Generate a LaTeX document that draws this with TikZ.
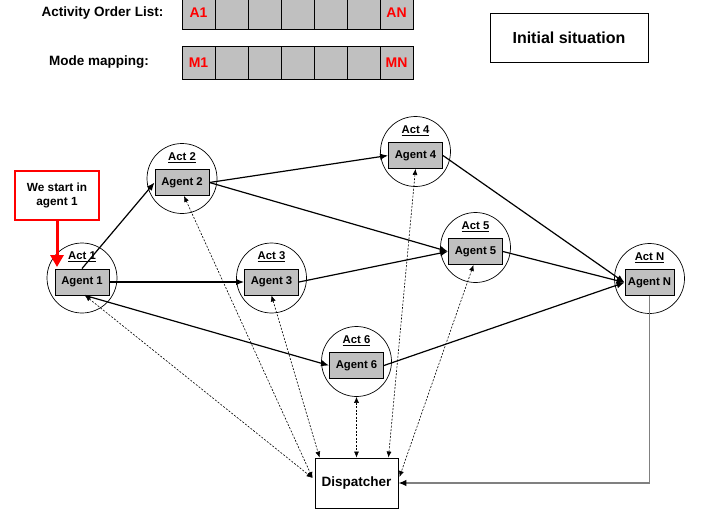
\documentclass[tikz,border=0pt]{standalone}
\usepackage{fontspec}
\setmainfont{Liberation Sans}
\usetikzlibrary{arrows.meta}
\definecolor{cellgray}{HTML}{C0C0C0}
\definecolor{linegray}{HTML}{808080}
\begin{document}
\begin{tikzpicture}[x=1pt,y=-1pt,
  agentbox/.style={draw, fill=cellgray, line width=0.9pt, minimum width=54pt, minimum height=26pt, inner sep=0pt, font=\fontsize{11.3}{13}\selectfont\bfseries},
  actcirc/.style={draw, circle, minimum size=70pt, inner sep=0pt, line width=0.7pt},
  actlabel/.style={font=\fontsize{11.3}{13}\selectfont\bfseries, inner sep=0pt},
  flow/.style={line width=1.2pt, -{Latex[length=8pt,width=6.5pt]}},
  dispatch/.style={line width=0.6pt, dash pattern=on 2pt off 1.5pt, {Latex[length=6pt,width=5pt]}-{Latex[length=6pt,width=5pt]}},
  cell/.style={draw, fill=cellgray, line width=1pt, minimum width=33pt, minimum height=33pt, inner sep=0pt},
  celltext/.style={text=red, font=\fontsize{14}{16}\selectfont\bfseries, inner sep=0pt},
  rowlabel/.style={font=\fontsize{13.5}{16}\selectfont\bfseries, inner sep=0pt}
]
\useasboundingbox (0,0) rectangle (702,514);

% --- arrays ---
\foreach \i in {0,...,6} {
  \node[cell] (ra\i) at (198.5+33*\i,12.5) {};
  \node[cell] (rm\i) at (198.5+33*\i,62.5) {};
}
\node[celltext] (tA1) at (ra0) {A1};
\node[celltext] (tAN) at (ra6) {AN};
\node[celltext] (tM1) at (rm0) {M1};
\node[celltext] (tMN) at (rm6) {MN};
\node[rowlabel] (lblaol) at (102.5,13) {Activity Order List:};
\node[rowlabel] (lblmm) at (99,62) {Mode mapping:};

\node[draw, line width=0.8pt, minimum width=158pt, minimum height=49pt, font=\fontsize{16}{19}\selectfont\bfseries] (init) at (569,37.5) {Initial situation};

% --- agents ---
\node[agentbox] (a1) at (82,282) {Agent 1};
\node[agentbox] (a2) at (182,182.5) {Agent 2};
\node[agentbox] (a3) at (271.5,282) {Agent 3};
\node[agentbox] (a4) at (415.5,155.5) {Agent 4};
\node[agentbox] (a5) at (475.5,251.5) {Agent 5};
\node[agentbox] (a6) at (356.5,365.5) {Agent 6};
\node[agentbox, minimum width=49pt] (aN) at (649.5,282.5) {Agent N};

\foreach \n/\t in {1/1,2/2,3/3,4/4,5/5,6/6,N/N} {
  \node[actcirc] (c\n) at ([yshift=4pt]a\n.center) {};
  \node[actlabel] (l\n) at ([yshift=25pt]a\n.center) {\underline{Act \t}};
}

% --- dispatcher ---
\node[draw, line width=0.9pt, minimum width=83pt, minimum height=50pt, font=\fontsize{13.5}{16}\selectfont\bfseries] (disp) at (356.5,483) {Dispatcher};

% --- start note ---
\node[draw=red, line width=2.5pt, minimum width=84pt, minimum height=49pt, align=center, font=\fontsize{11.8}{14}\selectfont\bfseries] (start) at (57,195.5) {We start in\\agent 1};
\coordinate (starttip) at (57,267);
\draw[red, line width=3pt, -{Triangle[length=12pt,width=13pt]}] (start.south) -- (starttip);

% --- flow arrows ---
\draw[flow] (a1.north) -- (a2.west);
\draw[flow] (a1.east) -- (a3.west);
\draw[flow] ([xshift=3pt]a1.south) -- (a6.west);
\draw[flow] (a2.east) -- (a4.west);
\draw[flow] (a2.east) -- (a5.west);
\draw[flow] (a3.east) -- (a5.west);
\draw[flow] (a4.east) -- (aN.west);
\draw[flow] (a5.east) -- (aN.west);
\draw[flow] (a6.east) -- (aN.west);
\draw[line width=1.2pt, linegray, -{Latex[length=8pt,width=6.5pt,color=black]}] (aN.south) |- (disp.east);

% --- dispatcher links ---
\draw[dispatch] ([xshift=3pt]a1.south) -- ([xshift=-2pt,yshift=5pt]disp.west);
\draw[dispatch] ([xshift=2pt]a2.south) -- ([xshift=-2pt,yshift=5pt]disp.west);
\draw[dispatch] (a3.south) -- ([xshift=5pt]disp.north west);
\draw[dispatch] (c6.south) -- (disp.north);
\draw[dispatch] (a4.south) -- ([xshift=-10pt]disp.north east);
\draw[dispatch] ([xshift=-2pt]a5.south) -- ([xshift=1pt,yshift=6pt]disp.east);
\end{tikzpicture}
\end{document}
